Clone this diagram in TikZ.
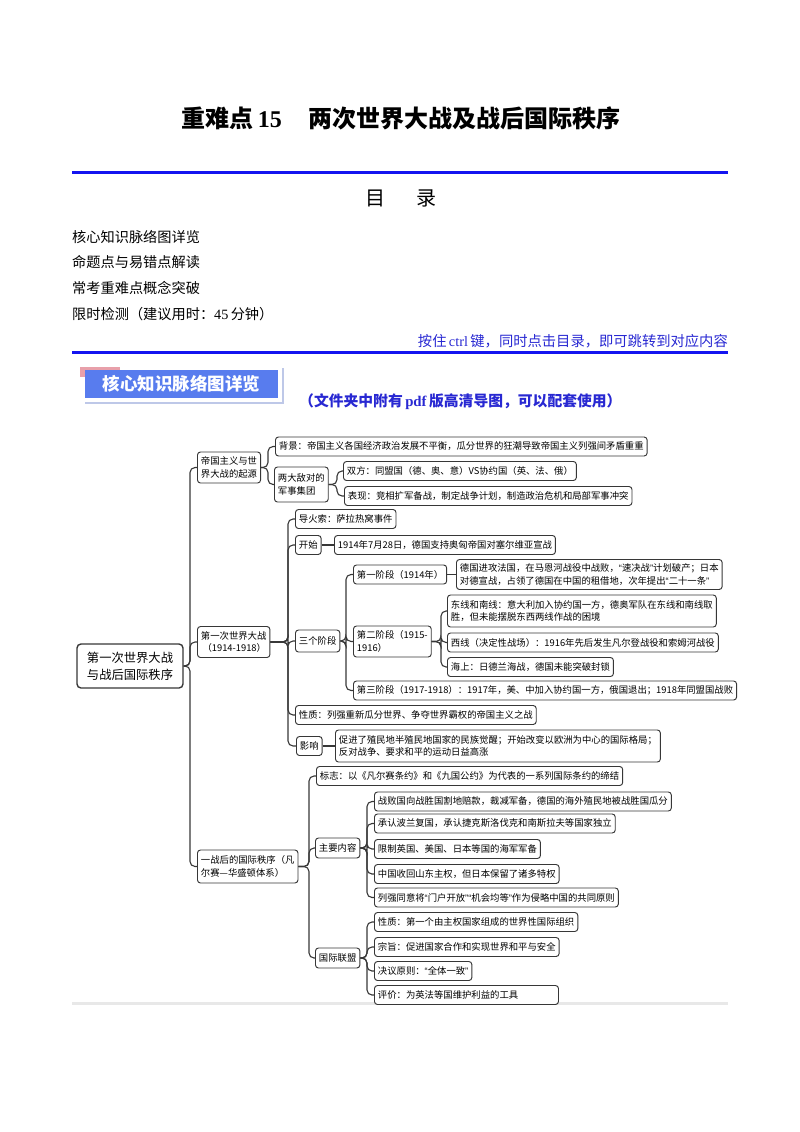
\documentclass[tikz,border=0pt]{standalone}
\usepackage{fontspec}
\setmainfont{Liberation Serif}
\newfontfamily\cjk{Noto Sans CJK SC}
\newfontfamily\serifnum{Liberation Serif}
\newfontfamily\latinsans{Liberation Sans}
\newcommand\myq[1]{{\latinsans“}#1{\latinsans”}}
\definecolor{blueline}{RGB}{20,20,240}
\definecolor{bannerblue}{RGB}{88,124,238}
\definecolor{bannerpink}{RGB}{232,160,170}
\definecolor{shadowc}{RGB}{190,200,232}
\definecolor{noteblue}{RGB}{40,40,210}
\definecolor{linec}{RGB}{55,55,55}
\definecolor{bandc}{RGB}{232,232,232}
\tikzset{
  box/.style={draw=linec, line width=0.95pt, rounded corners=3pt, fill=white,
    inner xsep=3.5pt, inner ysep=0pt, minimum height=19pt,
    font=\cjk\fontsize{9.35}{12.5}\selectfont, align=left, anchor=west},
  rootbox/.style={draw=linec, line width=1.4pt, rounded corners=4pt, fill=white,
    minimum width=106pt, minimum height=44pt, align=center,
    font=\cjk\fontsize{12.3}{17}\selectfont},
  conn/.style={draw=linec, line width=1.1pt, rounded corners=5pt},
  toc/.style={anchor=west, inner sep=0pt, font=\cjk\fontsize{14.2}{16}\selectfont},
}
\begin{document}
\begin{tikzpicture}[x=1pt, y=-1pt]
\useasboundingbox (0,0) rectangle (800,1132);
% header
\node[font=\cjk\bfseries\fontsize{24}{28}\selectfont, inner sep=0pt] (title) at (401,118)
  {重难点\,{\serifnum\bfseries 15}\hspace{1.1em}两次世界大战及战后国际秩序};
\draw[blueline, line width=3pt] (72,172.5) -- (728,172.5);
\node[font=\cjk\fontsize{20}{22}\selectfont, inner sep=0pt] (mulu) at (400.5,198) {目\hspace{31pt}录};
\node[toc] (t1) at (72,237) {核心知识脉络图详览};
\node[toc] (t2) at (72,262.5) {命题点与易错点解读};
\node[toc] (t3) at (72,288) {常考重难点概念突破};
\node[toc] (t4) at (72,314) {限时检测（建议用时：{\serifnum 45}\,分钟）};
\node[anchor=east, inner sep=0pt, text=noteblue, font=\cjk\fontsize{14.3}{15}\selectfont] (note) at (728,341)
  {按住\,{\serifnum ctrl}\,键，同时点击目录，即可跳转到对应内容};
\draw[blueline, line width=2.5pt] (72,352.5) -- (728,352.5);
% banner
\fill[bannerpink] (80,367) rectangle (120,377);
\fill[bannerblue] (85,370) rectangle (278,398);
\draw[shadowc, line width=1.3pt] (283,368) -- (283,403) -- (85,403);
\node[text=white, font=\cjk\bfseries\fontsize{17.5}{19}\selectfont, inner sep=0pt] (banner) at (181.5,384) {核心知识脉络图详览};
\node[anchor=west, inner sep=0pt, text=noteblue, font=\cjk\bfseries\fontsize{14.8}{16}\selectfont] (note2) at (299,402)
  {（文件夹中附有\,{\serifnum\bfseries pdf}\,版高清导图，可以配套使用）};
% bottom band
\fill[bandc] (72,1001.5) rectangle (728,1005);
% spines
\coordinate (sR) at (190,0);
\coordinate (sA) at (268,0);
\coordinate (sA2) at (337,0);
\coordinate (sB) at (288,0);
\coordinate (sB3) at (346,0);
\coordinate (sB32) at (441,0);
\coordinate (sC) at (309,0);
\coordinate (sC2) at (367,0);
% root
\node[rootbox] (root) at (130,666) {第一次世界大战\\与战后国际秩序};
% level 1
\node[box, minimum height=31pt] (A) at (197,467.5) {帝国主义与世\\界大战的起源};
\node[box, minimum height=31pt] (B) at (197,642) {第一次世界大战\\\,（1914-1918）};
\node[box, minimum height=33pt] (C) at (197,866.5) {一战后的国际秩序（凡\\尔赛—华盛顿体系）};
% A
\node[box] (A1) at (275,446.5) {背景：帝国主义各国经济政治发展不平衡，瓜分世界的狂潮导致帝国主义列强间矛盾重重};
\node[box, minimum height=35pt] (A2) at (274,484.5) {两大敌对的\\军事集团};
\node[box] (A21) at (343,471) {双方：同盟国（德、奥、意）VS协约国（英、法、俄）};
\node[box] (A22) at (344,496) {表现：竞相扩军备战，制定战争计划，制造政治危机和局部军事冲突};
% B
\node[box] (B1) at (295,519) {导火索：萨拉热窝事件};
\node[box] (B2) at (295,545) {开始};
\node[box] (B2a) at (334,545) {1914年7月28日，德国支持奥匈帝国对塞尔维亚宣战};
\node[box, minimum height=22pt] (B3) at (295,641) {三个阶段};
\node[box] (B31) at (353,574.5) {第一阶段（1914年）};
\node[box, minimum height=30pt] (B31a) at (456,574.5) {德国进攻法国，在马恩河战役中战败，\myq{速决战}计划破产；日本\\对德宣战，占领了德国在中国的租借地，次年提出\myq{二十一条}};
\node[box, minimum height=31pt] (B32) at (353,641.5) {第二阶段（1915-\\1916）};
\node[box, minimum height=32pt] (B321) at (447,611) {东线和南线：意大利加入协约国一方，德奥军队在东线和南线取\\胜，但未能摆脱东西两线作战的困境};
\node[box] (B322) at (447,642.5) {西线（决定性战场）：1916年先后发生凡尔登战役和索姆河战役};
\node[box] (B323) at (447,667) {海上：日德兰海战，德国未能突破封锁};
\node[box] (B33) at (353,690.5) {第三阶段（1917-1918）：1917年，美、中加入协约国一方，俄国退出；1918年同盟国战败};
\node[box] (B4) at (295,715) {性质：列强重新瓜分世界、争夺世界霸权的帝国主义之战};
\node[box] (B5) at (296,746) {影响};
\node[box, minimum height=32pt] (B5a) at (335,746) {促进了殖民地半殖民地国家的民族觉醒；开始改变以欧洲为中心的国际格局；\\反对战争、要求和平的运动日益高涨};
% C
\node[box] (C1) at (316,776) {标志：以《凡尔赛条约》和《九国公约》为代表的一系列国际条约的缔结};
\node[box, minimum height=20pt] (C2) at (315,848) {主要内容};
\node[box] (C21) at (374,801.5) {战败国向战胜国割地赔款，裁减军备，德国的海外殖民地被战胜国瓜分};
\node[box] (C22) at (374,823.5) {承认波兰复国，承认捷克斯洛伐克和南斯拉夫等国家独立};
\node[box] (C23) at (374,849) {限制英国、美国、日本等国的海军军备};
\node[box] (C24) at (374,874) {中国收回山东主权，但日本保留了诸多特权};
\node[box] (C25) at (374,897.5) {列强同意将\myq{门户开放}\myq{机会均等}作为侵略中国的共同原则};
\node[box, minimum height=20pt] (C3) at (315,958) {国际联盟};
\node[box] (C31) at (374,922) {性质：第一个由主权国家组成的世界性国际组织};
\node[box] (C32) at (374,947) {宗旨：促进国家合作和实现世界和平与安全};
\node[box] (C33) at (374,971) {决议原则：\myq{全体一致}};
\node[box, text width=177pt] (C34) at (374,995) {评价：为英法等国维护利益的工具};
% connectors
\foreach \c in {A,B,C} \draw[conn] (root.east) -- (root.east -| sR) |- (\c.west);
\foreach \c in {A1,A2} \draw[conn] (A.east) -- (A.east -| sA) |- (\c.west);
\foreach \c in {A21,A22} \draw[conn] (A2.east) -- (A2.east -| sA2) |- (\c.west);
\foreach \c in {B1,B2,B3,B4,B5} \draw[conn] (B.east) -- (B.east -| sB) |- (\c.west);
\draw[conn] (B2.east) -- (B2a.west);
\foreach \c in {B31,B32,B33} \draw[conn] (B3.east) -- (B3.east -| sB3) |- (\c.west);
\draw[conn] (B31.east) -- (B31a.west);
\foreach \c in {B321,B322,B323} \draw[conn] (B32.east) -- (B32.east -| sB32) |- (\c.west);
\draw[conn] (B5.east) -- (B5a.west);
\foreach \c in {C1,C2,C3} \draw[conn] (C.east) -- (C.east -| sC) |- (\c.west);
\foreach \c in {C21,C22,C23,C24,C25} \draw[conn] (C2.east) -- (C2.east -| sC2) |- (\c.west);
\foreach \c in {C31,C32,C33,C34} \draw[conn] (C3.east) -- (C3.east -| sC2) |- (\c.west);
\end{tikzpicture}
\end{document}
